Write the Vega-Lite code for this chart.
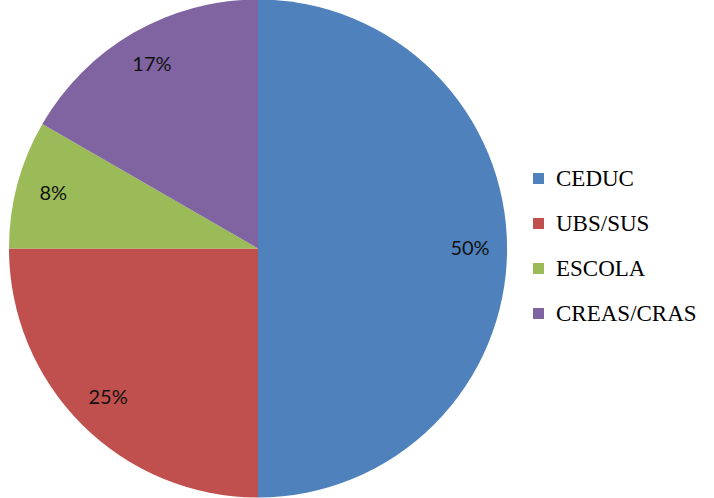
{
  "$schema": "https://vega.github.io/schema/vega-lite/v6.json",
  "width": 516,
  "height": 497,
  "padding": {"left": 0, "top": 0, "right": 198, "bottom": 1},
  "autosize": {"type": "none"},
  "background": "white",
  "config": {"view": {"stroke": null}},
  "data": {
    "values": [
      {"category": "CEDUC", "share": 0.5, "idx": 1},
      {"category": "UBS/SUS", "share": 0.25, "idx": 2},
      {"category": "ESCOLA", "share": 0.0833, "idx": 3},
      {"category": "CREAS/CRAS", "share": 0.1667, "idx": 4}
    ]
  },
  "encoding": {
    "theta": {"field": "share", "type": "quantitative", "stack": true},
    "order": {"field": "idx", "type": "quantitative"},
    "color": {
      "field": "category",
      "type": "nominal",
      "scale": {
        "domain": ["CEDUC", "UBS/SUS", "ESCOLA", "CREAS/CRAS"],
        "range": ["#4F81BD", "#C0504D", "#9BBB59", "#8064A2"]
      },
      "legend": {
        "title": null,
        "orient": "none",
        "legendX": 527,
        "legendY": 167,
        "symbolType": "square",
        "symbolSize": 120,
        "symbolStrokeWidth": 0,
        "symbolOpacity": 1,
        "labelFont": "Liberation Serif",
        "labelFontSize": 23,
        "labelColor": "#000000",
        "labelOffset": 6,
        "labelLimit": 200,
        "rowPadding": 21
      }
    }
  },
  "layer": [
    {"mark": {"type": "arc", "outerRadius": 249, "stroke": null}},
    {
      "mark": {"type": "text", "radius": 212, "font": "Lato", "fontSize": 20, "color": "#111111"},
      "encoding": {
        "text": {"field": "share", "type": "quantitative", "format": ".0%"},
        "color": {"value": "#111111"}
      }
    }
  ]
}
